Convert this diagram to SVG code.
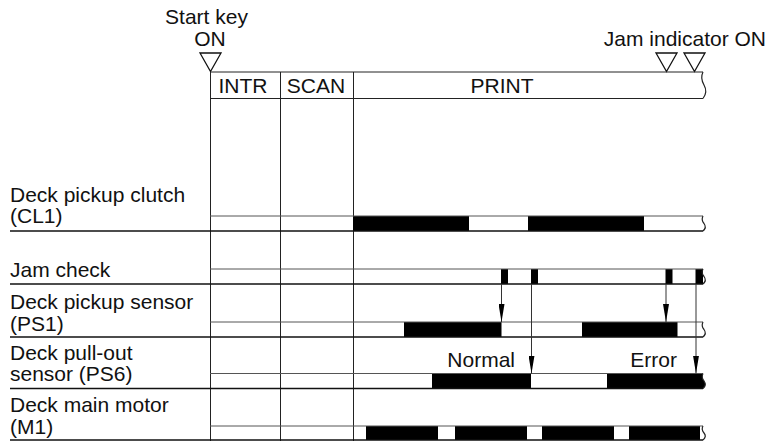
<svg xmlns="http://www.w3.org/2000/svg" width="769" height="441" viewBox="0 0 769 441">
<style>
text{font-family:"Liberation Sans",Arial,sans-serif;font-size:21px;fill:#111}
.grid{stroke:#222;stroke-width:1;fill:none}
.top{stroke:#555;stroke-width:1;fill:none}
.bot{stroke:#111;stroke-width:1.6;fill:none}
.blk{fill:#000}
.tri{fill:#fff;stroke:#111;stroke-width:1.3}
.sq{stroke:#222;stroke-width:1.2;fill:none}
.arr{stroke:#333;stroke-width:1;fill:none;marker-end:url(#ah)}
</style>
<defs>
<marker id="ah" viewBox="0 0 18 6" refX="18" refY="3" markerWidth="18" markerHeight="6" markerUnits="userSpaceOnUse" orient="auto">
<path d="M0,0 L18,3 L0,6 z" fill="#000"/>
</marker>
</defs>
<rect width="769" height="441" fill="#fff"/>

<g id="header">
<text x="206.5" y="23.5" text-anchor="middle">Start key</text>
<text x="210" y="45.5" text-anchor="middle">ON</text>
<polygon class="tri" points="200,53 221,53 210.5,71.5"/>
<text x="766" y="45.5" text-anchor="end">Jam indicator ON</text>
<polygon class="tri" points="656,53 677,53 666.5,71.5"/>
<polygon class="tri" points="684,53 705,53 694.5,71.5"/>
<line class="grid" x1="210" y1="72" x2="703" y2="72"/>
<line class="grid" x1="210" y1="98.5" x2="703" y2="98.5"/>
<path class="sq" d="M703,72 q-3,6 1,13 q4,7 -1,13.5"/>
<text x="243" y="93" text-anchor="middle">INTR</text>
<text x="316" y="93" text-anchor="middle">SCAN</text>
<text x="502" y="93" text-anchor="middle">PRINT</text>
</g>

<g id="columns">
<line class="grid" x1="210.5" y1="72" x2="210.5" y2="441"/>
<line class="grid" x1="280.5" y1="72" x2="280.5" y2="441"/>
<line class="grid" x1="353.5" y1="72" x2="353.5" y2="441"/>
</g>

<g id="cl1">
<text x="10" y="201.5">Deck pickup clutch</text>
<text x="10" y="222.5">(CL1)</text>
<rect class="blk" x="353" y="216" width="116" height="15"/>
<rect class="blk" x="528" y="216" width="116" height="15"/>
<line class="top" x1="210" y1="216" x2="703" y2="216"/>
<line class="bot" x1="10" y1="231" x2="703" y2="231"/>
<path class="sq" d="M703,216 q-2,4 1,7.5 q3,4 -1,7.5"/>
</g>

<g id="jam-check">
<text x="10" y="276.5">Jam check</text>
<rect class="blk" x="501" y="269" width="7" height="15"/>
<rect class="blk" x="531" y="269" width="7" height="15"/>
<rect class="blk" x="665.5" y="269" width="7" height="15"/>
<rect class="blk" x="695.5" y="269" width="7.5" height="15"/>
<line class="top" x1="210" y1="269" x2="703" y2="269"/>
<line class="bot" x1="10" y1="284" x2="703" y2="284"/>
<path class="sq" d="M703,269 q-2,4 1,7.5 q3,4 -1,7.5"/>
</g>

<g id="ps1">
<text x="10" y="308.5">Deck pickup sensor</text>
<text x="10" y="330.5">(PS1)</text>
<rect class="blk" x="404" y="322" width="97.5" height="15"/>
<rect class="blk" x="582" y="322" width="95.5" height="15"/>
<line class="top" x1="210" y1="322" x2="703" y2="322"/>
<line class="bot" x1="10" y1="337" x2="703" y2="337"/>
<path class="sq" d="M703,322 q-2,4 1,7.5 q3,4 -1,7.5"/>
</g>

<g id="ps6">
<text x="10" y="360">Deck pull-out</text>
<text x="10" y="381">sensor (PS6)</text>
<text x="515" y="366.5" text-anchor="end">Normal</text>
<text x="677" y="366.5" text-anchor="end">Error</text>
<rect class="blk" x="432" y="373.5" width="99" height="15"/>
<path class="blk" d="M607,373.5 L703,373.5 q-2,4 1,7.5 q3,4 -1,7.5 L607,388.5 z"/>
<line class="top" x1="210" y1="373.5" x2="703" y2="373.5"/>
<line class="bot" x1="10" y1="388.5" x2="703" y2="388.5"/>
<path class="sq" d="M703,373.5 q-2,4 1,7.5 q3,4 -1,7.5"/>
</g>

<g id="m1">
<text x="10" y="412">Deck main motor</text>
<text x="10" y="434">(M1)</text>
<rect class="blk" x="366" y="426" width="72" height="14"/>
<rect class="blk" x="455" y="426" width="72" height="14"/>
<rect class="blk" x="542" y="426" width="72" height="14"/>
<rect class="blk" x="629" y="426" width="71" height="14"/>
<line class="top" x1="210" y1="426" x2="703" y2="426"/>
<line class="bot" x1="10" y1="440" x2="703" y2="440"/>
<path class="sq" d="M703,426 q-2,3.5 1,7 q3,3.5 -1,7"/>
</g>

<g id="connectors">
<line class="arr" x1="501.5" y1="284" x2="501.5" y2="322"/>
<line class="arr" x1="531.5" y1="284" x2="531.5" y2="373.5"/>
<line class="arr" x1="666" y1="284" x2="666" y2="322"/>
<line class="arr" x1="696" y1="284" x2="696" y2="373.5"/>
</g>
</svg>
